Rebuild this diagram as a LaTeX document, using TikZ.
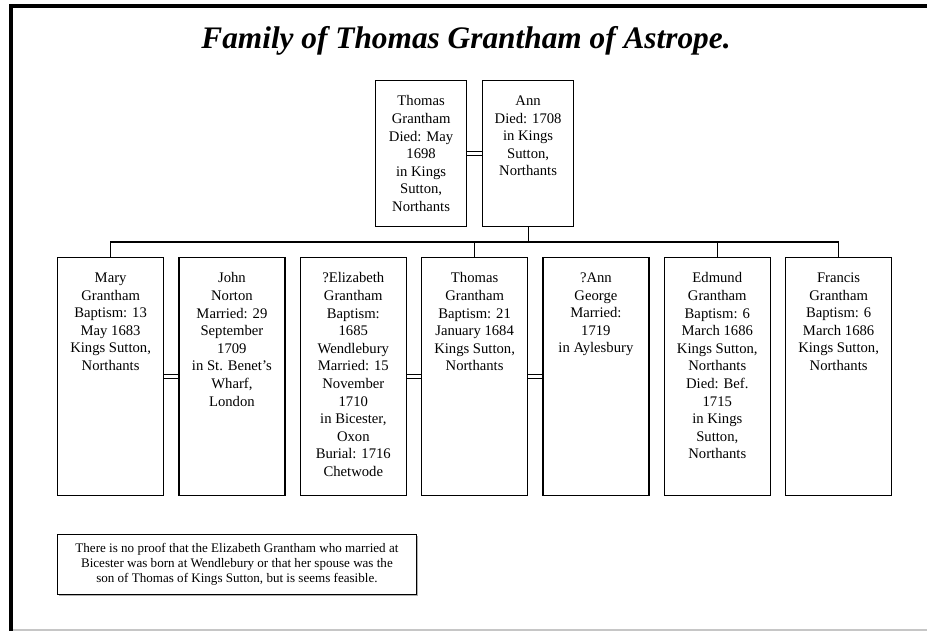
\documentclass[tikz,border=0pt]{standalone}
\usepackage{fontspec}
\setmainfont{Liberation Serif}
\usetikzlibrary{positioning,shadows}
\newcommand{\persontext}[3]{\parbox[c][#1][t]{#2}{\centering\vspace*{11.4pt}#3}}
\tikzset{
  person/.style={draw,line width=0.9pt,inner sep=0pt,anchor=north west,fill=white,
    font=\fontsize{11}{13.2}\selectfont},
  marriage/.style={double,double distance=2.2pt,line width=0.7pt},
  descent/.style={line width=0.9pt},
  notebox/.style={draw,line width=0.9pt,fill=white,align=center,inner sep=0pt,
    minimum width=269pt,minimum height=45pt,anchor=north west,
    drop shadow={shadow xshift=1pt,shadow yshift=-1pt,fill=gray!60,opacity=1},
    font=\fontsize{9.8}{11.3}\selectfont}
}
\begin{document}
\begin{tikzpicture}[x=0.75pt,y=-0.75pt]
\useasboundingbox(0,0)rectangle(927,631);
%frame
\draw[line width=3pt](11,631)--(11,6)--(927,6);
\draw[line width=1.5pt,gray!45](13,629.5)--(927,629.5);
%title
\node[font=\fontsize{23.5}{28}\selectfont\bfseries\itshape](title)at(466,41){Family of Thomas Grantham of Astrope.};
%parents
\node[person](thomas)at(375,80){\persontext{109.5pt}{68.25pt}{Thomas\\Grantham\\Died: May\\1698\\in Kings\\Sutton,\\Northants}};
\node[person](ann)at(482,80){\persontext{109.5pt}{68.25pt}{Ann\\Died: 1708\\in Kings\\Sutton,\\Northants}};
\draw[marriage](thomas.east)--(ann.west);
%children and spouses
\node[person](mary)at(57,257){\persontext{178.5pt}{79.5pt}{Mary\\Grantham\\Baptism: 13\\May 1683\\Kings Sutton,\\Northants}};
\node[person](john)at(178.3,257){\persontext{178.5pt}{79.5pt}{John\\Norton\\Married: 29\\September\\1709\\in St. Benet's\\Wharf,\\London}};
\node[person](elizabeth)at(299.7,257){\persontext{178.5pt}{79.5pt}{?Elizabeth\\Grantham\\Baptism:\\1685\\Wendlebury\\Married: 15\\November\\1710\\in Bicester,\\Oxon\\Burial: 1716\\Chetwode}};
\node[person](thomasjr)at(421,257){\persontext{178.5pt}{79.5pt}{Thomas\\Grantham\\Baptism: 21\\January 1684\\Kings Sutton,\\Northants}};
\node[person](anngeorge)at(542.3,257){\persontext{178.5pt}{79.5pt}{?Ann\\George\\Married:\\1719\\in Aylesbury}};
\node[person](edmund)at(663.7,257){\persontext{178.5pt}{79.5pt}{Edmund\\Grantham\\Baptism: 6\\March 1686\\Kings Sutton,\\Northants\\Died: Bef.\\1715\\in Kings\\Sutton,\\Northants}};
\node[person](francis)at(785,257){\persontext{178.5pt}{79.5pt}{Francis\\Grantham\\Baptism: 6\\March 1686\\Kings Sutton,\\Northants}};
\draw[marriage](mary.east)--(john.west);
\draw[marriage](elizabeth.east)--(thomasjr.west);
\draw[marriage](thomasjr.east)--(anngeorge.west);
%descent lines
\coordinate(fam)at(ann.south|-0,242);
\draw[descent](ann.south)--(fam);
\draw[descent](mary.north)|-(fam)-|(francis.north);
\draw[descent](thomasjr.north)--(thomasjr.north|-fam);
\draw[descent](edmund.north)--(edmund.north|-fam);
%note
\node[notebox](note)at(57,534){There is no proof that the Elizabeth Grantham who married at\\Bicester was born at Wendlebury or that her spouse was the\\son of Thomas of Kings Sutton, but is seems feasible.};
\end{tikzpicture}
\end{document}
